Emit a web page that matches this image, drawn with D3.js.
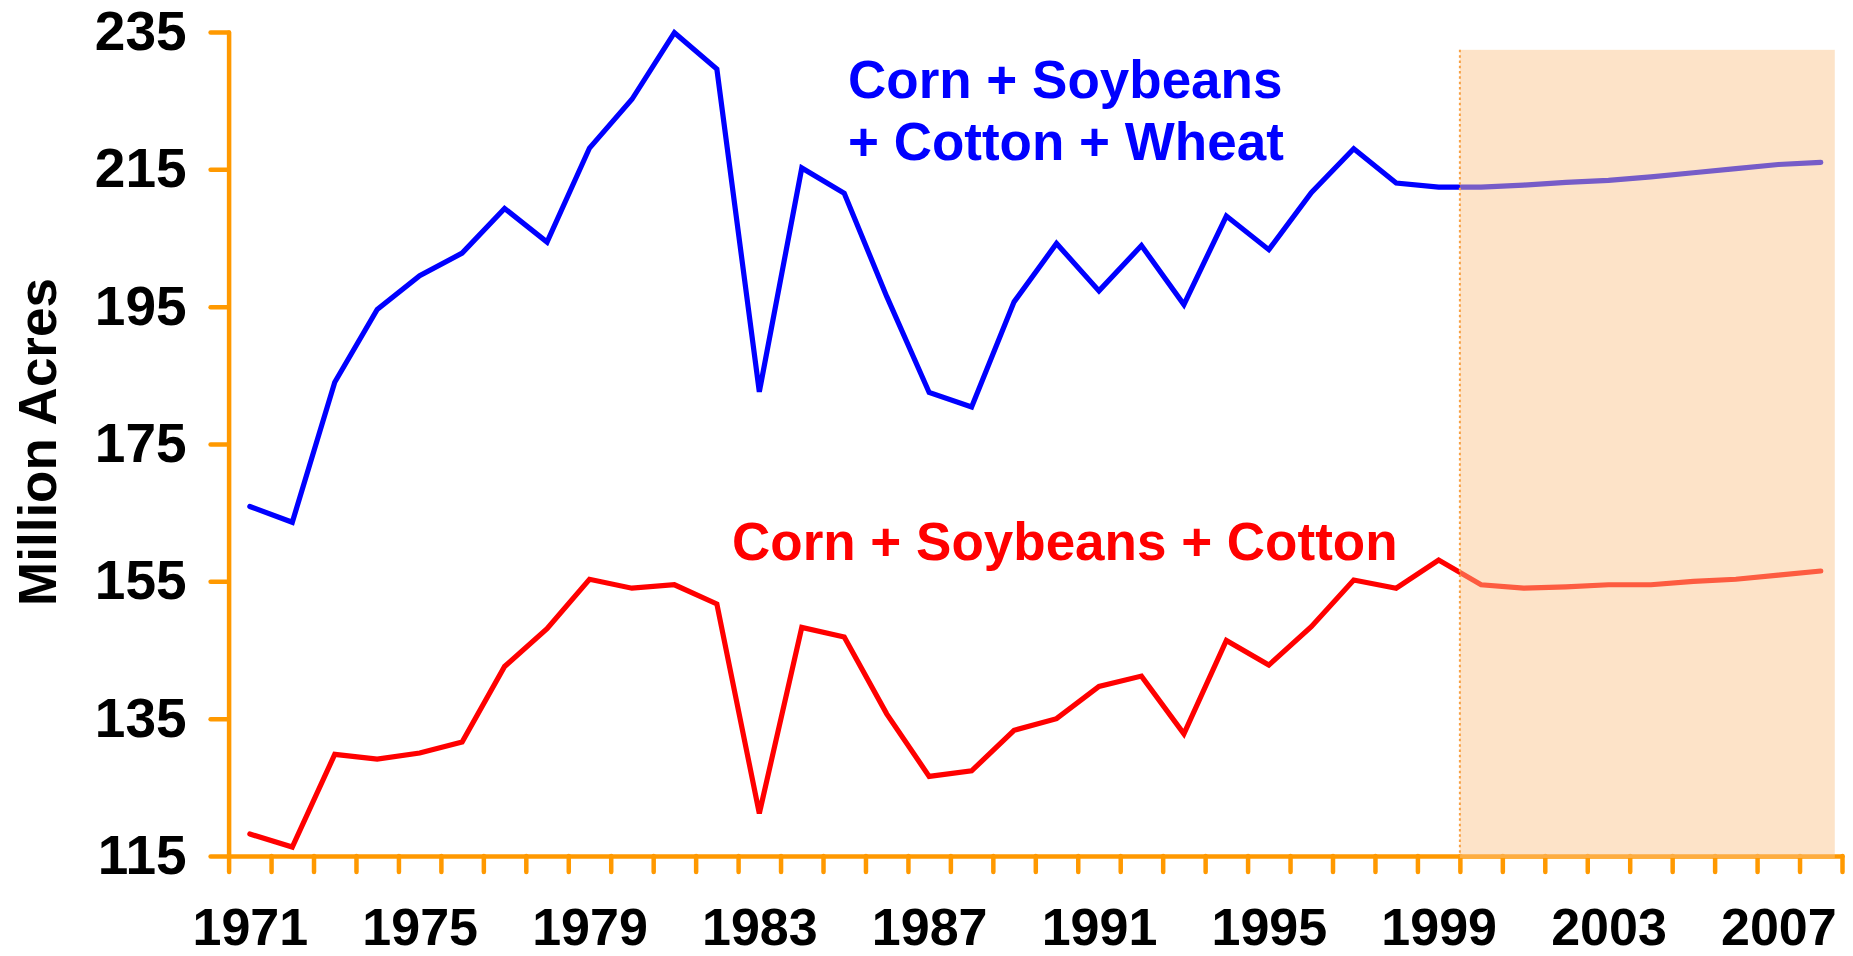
<!DOCTYPE html>
<html>
<head>
<meta charset="utf-8">
<script src="https://cdn.jsdelivr.net/npm/d3@7"></script>
<style>
  html, body { margin: 0; padding: 0; background: #fff; }
  svg { display: block; }
  text { font-family: "Liberation Sans", Arial, sans-serif; font-weight: bold; }
</style>
</head>
<body>
<svg id="chart" width="1853" height="956"></svg>
<script>
// ---- data ----
const years = d3.range(1971, 2009);
const cornSoyCottonWheat = [165.9,163.6,184.0,194.6,199.5,202.8,209.3,204.4,218.1,225.2,234.9,229.6,
  182.6,215.2,211.5,196.5,182.5,180.4,195.7,204.2,197.3,203.9,195.3,
  208.2,203.3,211.6,218.0,213.0,212.4,
  212.4,212.7,213.1,213.4,213.9,214.5,215.1,215.7,216.0];
const cornSoyCotton = [118.2,116.3,129.8,129.1,130.0,131.6,142.6,148.1,155.3,154.0,154.5,151.7,
  121.2,148.3,146.9,135.7,126.6,127.4,133.3,135.0,139.7,141.2,132.8,
  146.4,142.8,148.4,155.2,154.0,158.1,
  154.5,154.0,154.2,154.5,154.5,155.0,155.3,155.9,156.5];
const yTicks = [115, 135, 155, 175, 195, 215, 235];
const xLabelYears = [1971, 1975, 1979, 1983, 1987, 1991, 1995, 1999, 2003, 2007];
const seriesLabels = { top: ["Corn + Soybeans", "+ Cotton + Wheat"], bottom: "Corn + Soybeans + Cotton" };
const yTitle = "Million Acres";
const forecastStart = 1999.5, forecastEnd = 2008.33, forecastTop = 232.4;

// ---- scales ----
const svg = d3.select("#chart");
const x = d3.scaleLinear().domain([1970.5, 2008.5]).range([228.6, 1842]);
const y = d3.scaleLinear().domain([115, 235]).range([856, 32]);
const ORANGE = "#FF9900";

// ---- axes ----
const yAxis = svg.append("g").attr("transform", `translate(${x(1970.5)},0)`)
  .call(d3.axisLeft(y).tickValues(yTicks).tickSize(18).tickSizeOuter(0).tickPadding(24));
yAxis.selectAll("path, line").attr("stroke", ORANGE).attr("stroke-width", 4.5).attr("stroke-linecap", "round");
yAxis.selectAll("text").attr("font-size", 55).attr("fill", "#000")
  .style("font-family", "'Liberation Sans', Arial, sans-serif").style("font-weight", "bold");

const xTickAxis = svg.append("g").attr("transform", `translate(0,${y(115)})`)
  .call(d3.axisBottom(x).tickValues(d3.range(1970.5, 2009, 1)).tickSize(16).tickSizeOuter(0).tickFormat(""));
xTickAxis.selectAll("path, line").attr("stroke", ORANGE).attr("stroke-width", 4.5).attr("stroke-linecap", "round");

const xLabelAxis = svg.append("g").attr("transform", `translate(0,${y(115)})`)
  .call(d3.axisBottom(x).tickValues(xLabelYears).tickSize(0).tickPadding(52).tickFormat(d3.format("d")));
xLabelAxis.select(".domain").remove();
xLabelAxis.selectAll("text").attr("font-size", 52).attr("fill", "#000")
  .style("font-family", "'Liberation Sans', Arial, sans-serif").style("font-weight", "bold");

// ---- lines ----
const line = d3.line().x((d, i) => x(years[i])).y(d => y(d));
svg.append("path").datum(cornSoyCottonWheat).attr("d", line)
  .attr("fill", "none").attr("stroke", "#0000FF").attr("stroke-width", 5.2)
  .attr("stroke-linecap", "round").attr("stroke-linejoin", "miter");
svg.append("path").datum(cornSoyCotton).attr("d", line)
  .attr("fill", "none").attr("stroke", "#FF0000").attr("stroke-width", 5.2)
  .attr("stroke-linecap", "round").attr("stroke-linejoin", "miter");

// ---- forecast shading ----
svg.append("rect")
  .attr("x", x(forecastStart)).attr("y", y(forecastTop))
  .attr("width", x(forecastEnd) - x(forecastStart))
  .attr("height", y(115) + 2 - y(forecastTop))
  .attr("fill", "#FBC48A").attr("fill-opacity", 0.47);
svg.append("line")
  .attr("x1", x(forecastStart)).attr("x2", x(forecastStart))
  .attr("y1", y(forecastTop)).attr("y2", y(115))
  .attr("stroke", "#F7A043").attr("stroke-width", 2).attr("stroke-dasharray", "2.5,2.8");

// ---- text labels ----
const topLabel = svg.append("text").attr("x", 848).attr("y", 98)
  .attr("font-size", 53).attr("fill", "#0000FF");
seriesLabels.top.forEach((t, i) => {
  topLabel.append("tspan").attr("x", 848).attr("dy", i === 0 ? 0 : 62).text(t);
});
svg.append("text").attr("x", 732).attr("y", 560)
  .attr("font-size", 53).attr("fill", "#FF0000").text(seriesLabels.bottom);

svg.append("text").attr("transform", "translate(56,442) rotate(-90)")
  .attr("text-anchor", "middle").attr("font-size", 53).attr("fill", "#000").text(yTitle);
</script>
</body>
</html>
